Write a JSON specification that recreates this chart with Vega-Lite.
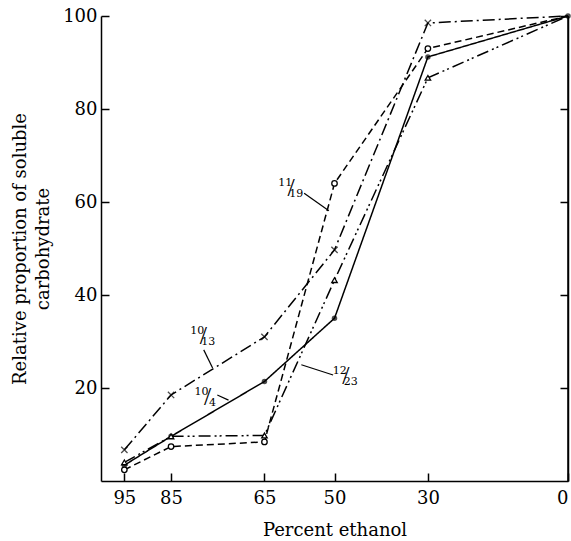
{
  "$schema": "https://vega.github.io/schema/vega-lite/v6.json",
  "autosize": "none",
  "width": 467,
  "height": 465,
  "padding": {"left": 101, "top": 16, "right": 3, "bottom": 60},
  "background": "white",
  "config": {
    "view": {"stroke": null},
    "font": "DejaVu Serif",
    "axis": {
      "grid": false,
      "domainColor": "black",
      "domainWidth": 1.5,
      "tickColor": "black",
      "tickWidth": 1.5,
      "tickSize": -8,
      "labelFont": "DejaVu Serif",
      "labelFontSize": 18,
      "labelColor": "black",
      "titleFont": "DejaVu Serif",
      "titleFontSize": 18,
      "titleFontWeight": "normal",
      "titleColor": "black"
    }
  },
  "datasets": {
    "curves": [
      {"series": "10/4", "pct": 95, "value": 3.4},
      {"series": "10/4", "pct": 85, "value": 9.6},
      {"series": "10/4", "pct": 65, "value": 21.4},
      {"series": "10/4", "pct": 50, "value": 35},
      {"series": "10/4", "pct": 30, "value": 91.2},
      {"series": "10/4", "pct": 0, "value": 100},
      {"series": "10/13", "pct": 95, "value": 6.7},
      {"series": "10/13", "pct": 85, "value": 18.5},
      {"series": "10/13", "pct": 65, "value": 31},
      {"series": "10/13", "pct": 50, "value": 49.7},
      {"series": "10/13", "pct": 30, "value": 98.5},
      {"series": "10/13", "pct": 0, "value": 100},
      {"series": "11/19", "pct": 95, "value": 2.4},
      {"series": "11/19", "pct": 85, "value": 7.4},
      {"series": "11/19", "pct": 65, "value": 8.4},
      {"series": "11/19", "pct": 50, "value": 64},
      {"series": "11/19", "pct": 30, "value": 93},
      {"series": "11/19", "pct": 0, "value": 100},
      {"series": "12/23", "pct": 95, "value": 4},
      {"series": "12/23", "pct": 85, "value": 9.6},
      {"series": "12/23", "pct": 65, "value": 9.8},
      {"series": "12/23", "pct": 50, "value": 43.2},
      {"series": "12/23", "pct": 30, "value": 86.7},
      {"series": "12/23", "pct": 0, "value": 100}
    ],
    "notes": [
      {"num": "10", "den": "13", "lx": 78.3, "ly": 31.2, "ax": 78.0, "ay": 28.2, "bx": 76.1, "by": 24.3},
      {"num": "10", "den": "4", "lx": 77.4, "ly": 18.1, "ax": 75.1, "ay": 18.5, "bx": 72.7, "by": 17.4},
      {"num": "11", "den": "19", "lx": 59.5, "ly": 63, "ax": 56.5, "ay": 61.9, "bx": 51.2, "by": 58.1},
      {"num": "12", "den": "23", "lx": 47.8, "ly": 22.6, "ax": 50.3, "ay": 22.8, "bx": 57.1, "by": 25.0}
    ]
  },
  "layer": [
    {
      "data": {"name": "curves"},
      "mark": {"type": "line", "color": "black", "strokeWidth": 1.5},
      "encoding": {
        "x": {
          "field": "pct", "type": "quantitative",
          "scale": {"domain": [0, 100], "reverse": true, "nice": false, "zero": false},
          "axis": {"values": [95, 85, 65, 50, 30, 0], "title": "Percent ethanol", "labelPadding": 16, "titlePadding": 14}
        },
        "y": {
          "field": "value", "type": "quantitative",
          "scale": {"domain": [0, 100], "nice": false},
          "axis": {"orient": "left", "values": [20, 40, 60, 80, 100], "title": ["Relative proportion of soluble", "carbohydrate"], "labelPadding": 12, "titlePadding": 10, "titleLineHeight": 23}
        },
        "strokeDash": {
          "field": "series", "type": "nominal",
          "scale": {"domain": ["10/4", "10/13", "11/19", "12/23"], "range": [[1, 0], [12, 4, 2, 4], [7, 4], [12, 4, 2, 3, 2, 4]]},
          "legend": null
        }
      }
    },
    {
      "data": {"name": "curves"},
      "transform": [{"filter": "datum.series == '10/4'"}],
      "mark": {"type": "point", "shape": "circle", "filled": true, "color": "black", "size": 30},
      "encoding": {
        "x": {"field": "pct", "type": "quantitative"},
        "y": {"field": "value", "type": "quantitative", "axis": {"orient": "right", "labels": false, "title": null, "domain": true, "ticks": true, "values": [20, 40, 60, 80, 100]}}
      }
    },
    {
      "data": {"name": "curves"},
      "transform": [{"filter": "datum.series == '10/4' && datum.pct == 0"}],
      "mark": {"type": "rule", "color": "black", "strokeWidth": 1.5},
      "encoding": {
        "x": {"datum": 0}
      }
    },
    {
      "data": {"name": "curves"},
      "transform": [{"filter": "datum.series == '10/13' && datum.pct > 0"}],
      "mark": {"type": "point", "shape": "M-1,-1L1,1M-1,1L1,-1", "filled": false, "color": "black", "strokeWidth": 1.3, "size": 40},
      "encoding": {
        "x": {"field": "pct", "type": "quantitative"},
        "y": {"field": "value", "type": "quantitative", "axis": null}
      }
    },
    {
      "data": {"name": "curves"},
      "transform": [{"filter": "datum.series == '11/19' && datum.pct > 0"}],
      "mark": {"type": "point", "shape": "circle", "filled": false, "fill": "white", "fillOpacity": 1, "stroke": "black", "strokeWidth": 1.3, "size": 30},
      "encoding": {
        "x": {"field": "pct", "type": "quantitative"},
        "y": {"field": "value", "type": "quantitative", "axis": null}
      }
    },
    {
      "data": {"name": "curves"},
      "transform": [{"filter": "datum.series == '12/23' && datum.pct > 0"}],
      "mark": {"type": "point", "shape": "triangle-up", "filled": false, "fill": "white", "fillOpacity": 1, "stroke": "black", "strokeWidth": 1.3, "size": 30},
      "encoding": {
        "x": {"field": "pct", "type": "quantitative"},
        "y": {"field": "value", "type": "quantitative", "axis": null}
      }
    },
    {
      "data": {"name": "notes"},
      "mark": {"type": "rule", "color": "black", "strokeWidth": 1.2},
      "encoding": {
        "x": {"field": "ax", "type": "quantitative"},
        "y": {"field": "ay", "type": "quantitative", "axis": null},
        "x2": {"field": "bx"},
        "y2": {"field": "by"}
      }
    },
    {
      "data": {"name": "notes"},
      "mark": {"type": "text", "font": "DejaVu Serif", "fontSize": 11, "fill": "black", "dx": -5, "dy": -5},
      "encoding": {
        "x": {"field": "lx", "type": "quantitative"},
        "y": {"field": "ly", "type": "quantitative", "axis": null},
        "text": {"field": "num"}
      }
    },
    {
      "data": {"name": "notes"},
      "mark": {"type": "text", "font": "Liberation Serif", "fontSize": 26, "fill": "black", "text": "/", "dx": 1},
      "encoding": {
        "x": {"field": "lx", "type": "quantitative"},
        "y": {"field": "ly", "type": "quantitative", "axis": null}
      }
    },
    {
      "data": {"name": "notes"},
      "mark": {"type": "text", "font": "DejaVu Serif", "fontSize": 11, "fill": "black", "dx": 6, "dy": 6},
      "encoding": {
        "x": {"field": "lx", "type": "quantitative"},
        "y": {"field": "ly", "type": "quantitative", "axis": null},
        "text": {"field": "den"}
      }
    }
  ],
  "resolve": {"axis": {"y": "independent"}}
}
